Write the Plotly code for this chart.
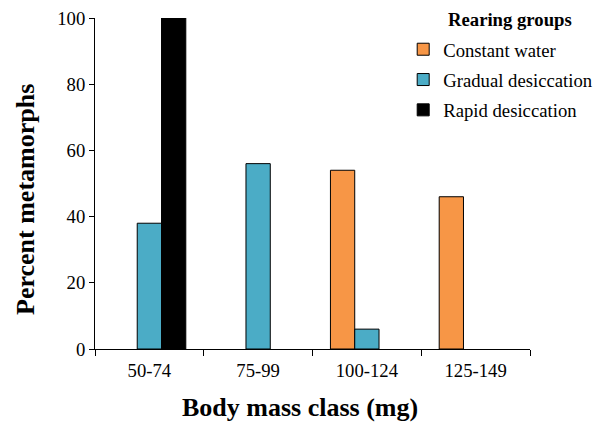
import plotly.graph_objects as go

categories = ["50-74", "75-99", "100-124", "125-149"]
constant_water = [0, 0, 54, 46]
gradual_desiccation = [38, 56, 6, 0]
rapid_desiccation = [100, 0, 0, 0]

series = [
    ("Constant water", constant_water, "#F79646"),
    ("Gradual desiccation", gradual_desiccation, "#4BACC6"),
    ("Rapid desiccation", rapid_desiccation, "#000000"),
]

font_family = "Liberation Serif, Times New Roman, serif"
FS = 18.7
TFS = 26

fig = go.Figure()
for i, (name, vals, color) in enumerate(series):
    fig.add_trace(go.Bar(
        x=categories,
        # zero-height bars are not drawn (no outline on the baseline)
        y=[v if v > 0 else None for v in vals],
        name=name,
        marker=dict(color=color, line=dict(color="#000000", width=1)),
        legendgroup="g%d" % i,
    ))

# page body has an 8px margin; figure sized so that it fits 603x426
ML, MT, MR, MB = 87, 10, 73, 77
PW, PH = 435, 331
W, H = ML + PW + MR, MT + PH + MB
OFF = 8  # page body margin


def px_x(sx):
    return (sx - OFF - ML) / PW


def px_y(sy):
    return (MT + PH - (sy - OFF)) / PH


fig.update_layout(
    width=W, height=H,
    margin=dict(l=ML, r=MR, t=MT, b=MB, autoexpand=False),
    paper_bgcolor="white", plot_bgcolor="white",
    barmode="group", bargap=0.33, bargroupgap=0,
    font=dict(family=font_family, size=FS, color="#000000"),
    showlegend=True,
    legend=dict(
        x=0.7085, y=0.962, xanchor="left", yanchor="top",
        font=dict(family=font_family, size=FS, color="#000000"),
        tracegroupgap=3,
        bgcolor="rgba(0,0,0,0)",
    ),
    annotations=[
        dict(text="<b>Rearing groups</b>", x=px_x(510), y=px_y(20),
             xref="paper", yref="paper", xanchor="center", yanchor="middle",
             showarrow=False, font=dict(family=font_family, size=FS, color="#000000")),
        dict(text="<b>Body mass class (mg)</b>", x=px_x(300), y=px_y(407),
             xref="paper", yref="paper", xanchor="center", yanchor="middle",
             showarrow=False, font=dict(family=font_family, size=TFS, color="#000000")),
        dict(text="<b>Percent metamorphs</b>", x=px_x(25), y=px_y(200),
             xref="paper", yref="paper", xanchor="center", yanchor="middle",
             textangle=-90,
             showarrow=False, font=dict(family=font_family, size=TFS, color="#000000")),
    ],
    xaxis=dict(
        categoryorder="array", categoryarray=categories,
        showline=True, linecolor="#000000", linewidth=1,
        ticks="outside", tickson="boundaries", ticklen=6, tickcolor="#000000",
        tickfont=dict(family=font_family, size=FS, color="#000000"),
        ticklabelstandoff=5,
        showgrid=False, zeroline=False,
    ),
    yaxis=dict(
        range=[0, 100], dtick=20,
        showline=True, linecolor="#000000", linewidth=1,
        ticks="outside", ticklen=5, tickcolor="#000000",
        tickfont=dict(family=font_family, size=FS, color="#000000"),
        ticklabeloverflow="allow",
        showgrid=False, zeroline=False,
    ),
)

fig.write_html("out.html")
